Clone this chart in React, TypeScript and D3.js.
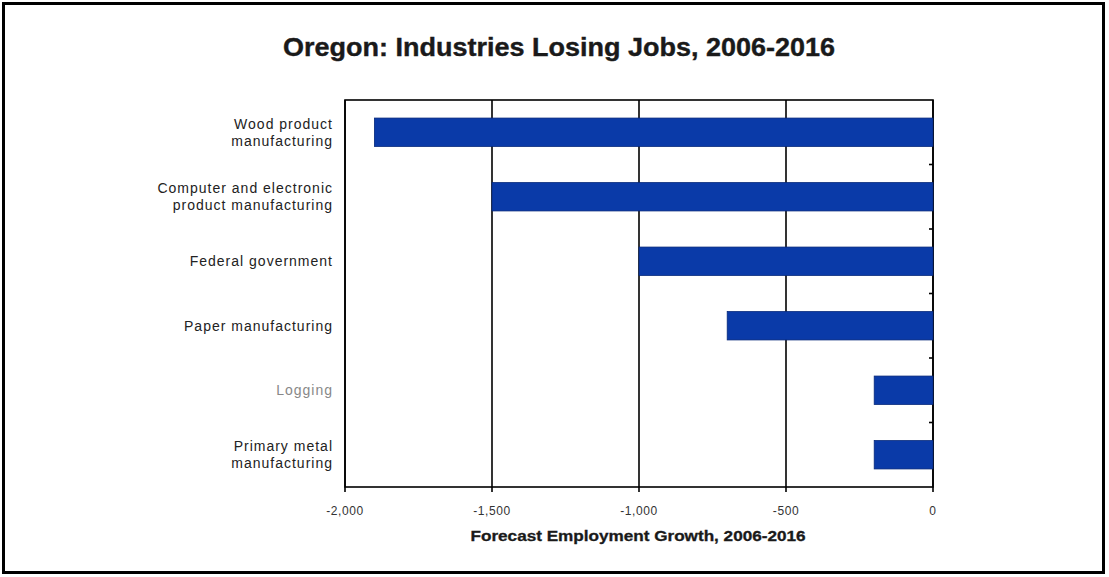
import React from "react";
import * as d3 from "d3";

const categories: string[][] = [
  ["Wood product", "manufacturing"],
  ["Computer and electronic", "product manufacturing"],
  ["Federal government"],
  ["Paper manufacturing"],
  ["Logging"],
  ["Primary metal", "manufacturing"],
];
const values: number[] = [-1900, -1500, -1000, -700, -200, -200];
const xTicks: number[] = [-2000, -1500, -1000, -500, 0];
const title = "Oregon: Industries Losing Jobs, 2006-2016";
const xTitle = "Forecast Employment Growth, 2006-2016";

const W = 1109;
const H = 577;
const left = 345;
const right = 933;
const top = 100;
const bottom = 487;

export default function App() {
  const x = d3.scaleLinear().domain([-2000, 0]).range([left, right]);
  const keys = categories.map((_, i) => String(i));
  const y = d3.scaleBand().domain(keys).range([top, bottom]).paddingInner(0.56).paddingOuter(0.28);
  const bandStep = (bottom - top) / categories.length;
  const fmt = (v: number) => d3.format(",")(v).replace("\u2212", "-");
  const font = "'Liberation Sans', Arial, sans-serif";
  return (
    <svg width={W} height={H} style={{ position: "absolute", left: 0, top: 0, background: "#fff" }}>
      <rect x={3.5} y={3.5} width={1100} height={569} fill="#fff" stroke="#000" strokeWidth={3} />
      <text x={559} y={56} textAnchor="middle" fontFamily={font} fontWeight="bold" fontSize={26} fill="#1a1a1a"
        textLength={552} lengthAdjust="spacingAndGlyphs" stroke="#1a1a1a" strokeWidth={0.4}>
        {title}
      </text>
      {/* gridlines */}
      {xTicks.map((t) => (
        <line key={"g" + t} x1={x(t)} x2={x(t)} y1={top} y2={bottom} stroke="#000" strokeWidth={1.6} />
      ))}
      {/* plot frame */}
      <rect x={left} y={top} width={right - left} height={bottom - top} fill="none" stroke="#000" strokeWidth={1.6} />
      {/* bars */}
      {values.map((v, i) => (
        <rect
          key={"b" + i}
          x={x(v)}
          y={y(String(i))!}
          width={x(0) - x(v)}
          height={y.bandwidth()}
          fill="#0a3aa8"
          stroke="#06287a"
          strokeWidth={0.8}
        />
      ))}
      {/* category tick marks on right axis */}
      {d3.range(1, categories.length).map((i) => (
        <line key={"ct" + i} x1={right - 4} x2={right} y1={top + i * bandStep} y2={top + i * bandStep} stroke="#000" strokeWidth={1.6} />
      ))}
      {/* x ticks */}
      {xTicks.map((t) => (
        <g key={"t" + t}>
          <line x1={x(t)} x2={x(t)} y1={bottom} y2={bottom + 5} stroke="#000" strokeWidth={1.6} />
          <text x={x(t)} y={515} textAnchor="middle" fontFamily={font} fontSize={12} letterSpacing={0.6} fill="#333">
            {fmt(t)}
          </text>
        </g>
      ))}
      {/* category labels */}
      {categories.map((lines, i) => {
        const cy = top + (i + 0.5) * bandStep;
        const lh = 17;
        const startY = cy - ((lines.length - 1) * lh) / 2 + 5;
        return (
          <text
            key={"c" + i}
            textAnchor="end"
            fontFamily={font}
            fontSize={14}
            letterSpacing={1}
            fill={lines[0] === "Logging" ? "#888" : "#222"}
          >
            {lines.map((ln, j) => (
              <tspan key={j} x={333} y={startY + j * lh}>
                {ln}
              </tspan>
            ))}
          </text>
        );
      })}
      <text x={638} y={541} textAnchor="middle" fontFamily={font} fontWeight="bold" fontSize={14} fill="#1a1a1a"
        textLength={335} lengthAdjust="spacingAndGlyphs" stroke="#1a1a1a" strokeWidth={0.3}>
        {xTitle}
      </text>
    </svg>
  );
}
